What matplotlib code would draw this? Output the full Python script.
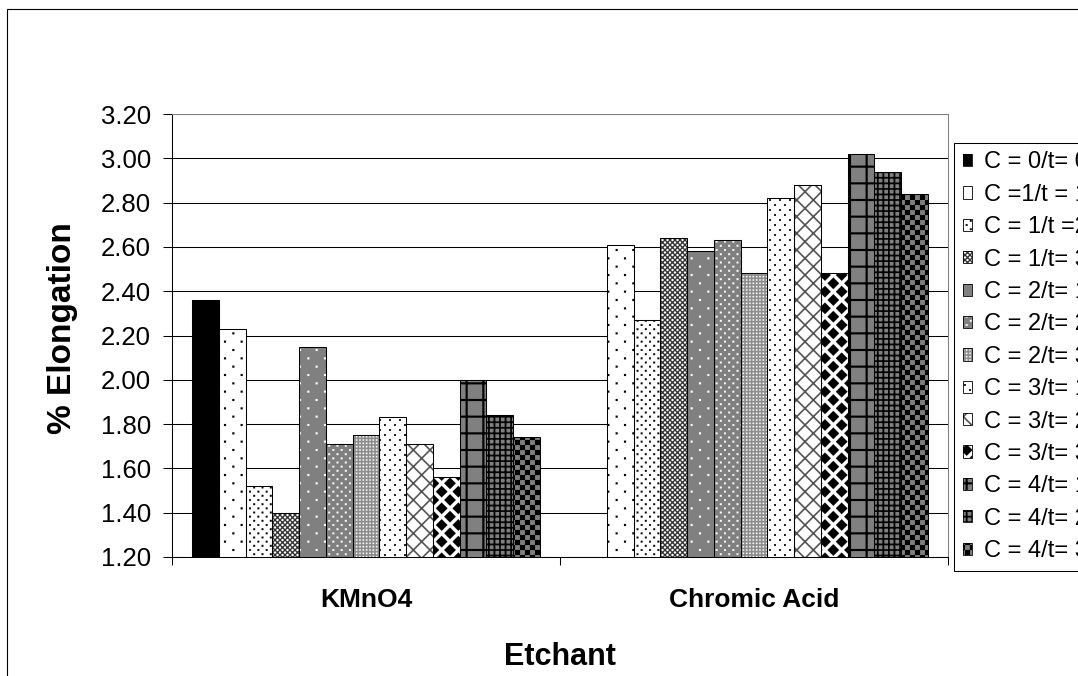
import numpy as np
import matplotlib
matplotlib.use("Agg")
import matplotlib.pyplot as plt
import matplotlib.hatch as mhatch
from matplotlib.path import Path
from matplotlib.patches import Patch, Rectangle

# ---------------- data ----------------
etchants = ["KMnO4", "Chromic Acid"]
series_labels = ["C = 0/t= 0", "C =1/t = 1", "C = 1/t =2", "C = 1/t= 3",
                 "C = 2/t= 1", "C = 2/t= 2", "C = 2/t= 3", "C = 3/t= 1",
                 "C = 3/t= 2", "C = 3/t= 3", "C = 4/t= 1", "C = 4/t= 2",
                 "C = 4/t= 3"]
kmno4_values = [2.36, 2.23, 1.52, 1.40, 2.15, 1.71, 1.75, 1.83, 1.71, 1.56, 2.00, 1.84, 1.74]
chromic_values = [np.nan, 2.61, 2.27, 2.64, 2.58, 2.63, 2.48, 2.82, 2.88, 2.48, 3.02, 2.94, 2.84]
y_ticks = [1.20, 1.40, 1.60, 1.80, 2.00, 2.20, 2.40, 2.60, 2.80, 3.00, 3.20]

# ---------------- custom pattern fills (Excel-like) ----------------
def _rect(x0, y0, x1, y1):
    return [(x0, y0), (x1, y0), (x1, y1), (x0, y1)]

def _to_path(polys):
    verts, codes = [], []
    for p in polys:
        verts.extend(p)
        verts.append(p[0])
        codes.extend([Path.MOVETO] + [Path.LINETO] * (len(p) - 1) + [Path.CLOSEPOLY])
    return Path(np.array(verts, float) / 100.0, codes)

def _dots(period, size, stagger=True):
    n = int(round(100 / period))
    polys = []
    for i in range(-1, n + 2):
        for j in range(-1, n + 2):
            pts = [(i * period, j * period)]
            if stagger:
                pts.append((i * period + period / 2, j * period + period / 2))
            for cx, cy in pts:
                polys.append(_rect(cx - size / 2, cy - size / 2, cx + size / 2, cy + size / 2))
    return _to_path(polys)

def _grid(period, lw):
    n = int(round(100 / period))
    polys = []
    for k in range(-1, n + 2):
        c = k * period
        polys.append(_rect(c - lw / 2, -5, c + lw / 2, 105))
        polys.append(_rect(-5, c - lw / 2, 105, c + lw / 2))
    return _to_path(polys)

def _diag(period, w_perp):
    w = w_perp * np.sqrt(2)
    polys = []
    c = -120.0
    while c <= 240:
        polys.append([(c - w / 2 - 10, -10), (c + w / 2 - 10, -10),
                      (c + w / 2 + 110, 110), (c - w / 2 + 110, 110)])
        polys.append([(c + 10 - w / 2, -10), (c + 10 + w / 2, -10),
                      (c - 110 + w / 2, 110), (c - 110 - w / 2, 110)])
        c += period
    return _to_path(polys)

def _diamonds(period, r):
    n = int(round(100 / period))
    polys = []
    for i in range(-1, n + 2):
        for j in range(-1, n + 2):
            for cx, cy in [(i * period, j * period),
                           (i * period + period / 2, j * period + period / 2)]:
                polys.append([(cx, cy - r), (cx + r, cy), (cx, cy + r), (cx - r, cy)])
    return _to_path(polys)

def _checker(sq):
    n = int(round(100 / sq))
    polys = []
    for i in range(n):
        for j in range(n):
            if (i + j) % 2 == 0:
                polys.append(_rect(i * sq, j * sq, (i + 1) * sq, (j + 1) * sq))
    return _to_path(polys)

CUSTOM_HATCHES = {
    ".": _dots(100 / 6, 2.0),
    "..": _dots(100 / 12, 1.8),
    "...": _dots(100 / 30, 1.4, stagger=False),
    "o": _dots(100 / 10, 1.8),
    "xx": _diag(100 / 20, 1.2),
    "x": _diag(100 / 6, 1.5),
    "O": _diamonds(100 / 6, 5.8),
    "+": _grid(100 / 6, 2.0),
    "++": _grid(100 / 18, 1.6),
    "*": _checker(5.0),
}

_orig_get_path = mhatch.get_path

def _custom_get_path(hatchpattern, density=6):
    if hatchpattern in CUSTOM_HATCHES:
        return CUSTOM_HATCHES[hatchpattern]
    return _orig_get_path(hatchpattern, density)

mhatch.get_path = _custom_get_path

# (facecolor, pattern colour, pattern key)
styles = [
    ("black", "black", None),
    ("white", "black", "."),
    ("white", "black", ".."),
    ("white", "#303030", "xx"),
    ("#808080", "white", "."),
    ("#808080", "white", ".."),
    ("#8c8c8c", "white", "..."),
    ("white", "black", "o"),
    ("white", "#505050", "x"),
    ("white", "black", "O"),
    ("#808080", "black", "+"),
    ("#808080", "black", "++"),
    ("#808080", "black", "*"),
]

# ---------------- figure ----------------
plt.rcParams["font.family"] = ["Liberation Sans", "DejaVu Sans"]
plt.rcParams["hatch.linewidth"] = 0.1

W, H = 1078, 676
fig = plt.figure(figsize=(W / 100, H / 100), dpi=100)
fig.patch.set_facecolor("white")

# chart-area border (cropped on right and bottom)
fig.add_artist(Rectangle((7 / W, -0.5), 2.0, (1 - 9 / H) + 0.5, transform=fig.transFigure,
                         fill=False, edgecolor="black", linewidth=0.8))

ax_l, ax_r, ax_t, ax_b = 172, 948, 114, 557
ax = fig.add_axes([ax_l / W, 1 - ax_b / H, (ax_r - ax_l) / W, (ax_b - ax_t) / H])

n_series = len(series_labels)
x = np.arange(len(etchants))
bw = 1.0 / (n_series + 1.5)
values = np.array([kmno4_values, chromic_values])  # shape (2, 13)

for i in range(n_series):
    fc, hc, hk = styles[i]
    pos = x + (i - (n_series - 1) / 2) * bw
    vals = values[:, i]
    ax.bar(pos, vals, bw, color=fc, edgecolor=hc, hatch=hk, linewidth=0, zorder=2)
    ax.bar(pos, vals, bw, facecolor="none", edgecolor="black", linewidth=0.75, zorder=3)

ax.set_xlim(-0.5, 1.5)
ax.set_ylim(1.2, 3.2)
ax.set_yticks(y_ticks)
ax.set_yticklabels([f"{v:.2f}" for v in y_ticks], fontsize=18.5)
ax.tick_params(axis="y", direction="out", length=6.5, width=0.75, pad=8.5, color="black")
ax.yaxis.grid(True, color="black", linewidth=0.75)
ax.set_axisbelow(True)

ax.set_xticks(x)
ax.set_xticklabels(etchants, fontsize=19, fontweight="bold")
ax.tick_params(axis="x", which="major", length=0, pad=22)
ax.set_xticks([-0.5, 0.5, 1.5], minor=True)
ax.tick_params(axis="x", which="minor", direction="out", length=6, width=0.75, color="black")

for s in ["left", "bottom"]:
    ax.spines[s].set_color("black")
    ax.spines[s].set_linewidth(0.75)
for s in ["top", "right"]:
    ax.spines[s].set_color("#808080")
    ax.spines[s].set_linewidth(0.75)

fig.text(63 / W, 1 - 328 / H, "% Elongation", rotation=90, ha="center", va="center",
         fontsize=24, fontweight="bold")
fig.text(560 / W, 1 - 665 / H, "Etchant", ha="center", va="baseline",
         fontsize=22, fontweight="bold")

# legend
handles = []
for fc, hc, hk in styles:
    h1 = Patch(facecolor=fc, edgecolor=hc, hatch=hk, linewidth=0)
    h2 = Patch(facecolor="none", edgecolor="black", linewidth=0.6)
    handles.append((h1, h2))
leg = fig.legend(handles, series_labels, loc="upper left",
                 bbox_to_anchor=(954 / W, 1 - 143 / H), bbox_transform=fig.transFigure,
                 borderaxespad=0, fontsize=17, handlelength=0.42, handleheight=0.42,
                 handletextpad=0.47, borderpad=0.36, labelspacing=0.44,
                 frameon=True, fancybox=False, framealpha=1, edgecolor="black")
leg.get_frame().set_linewidth(0.75)

fig.savefig("out.png", dpi=100)
